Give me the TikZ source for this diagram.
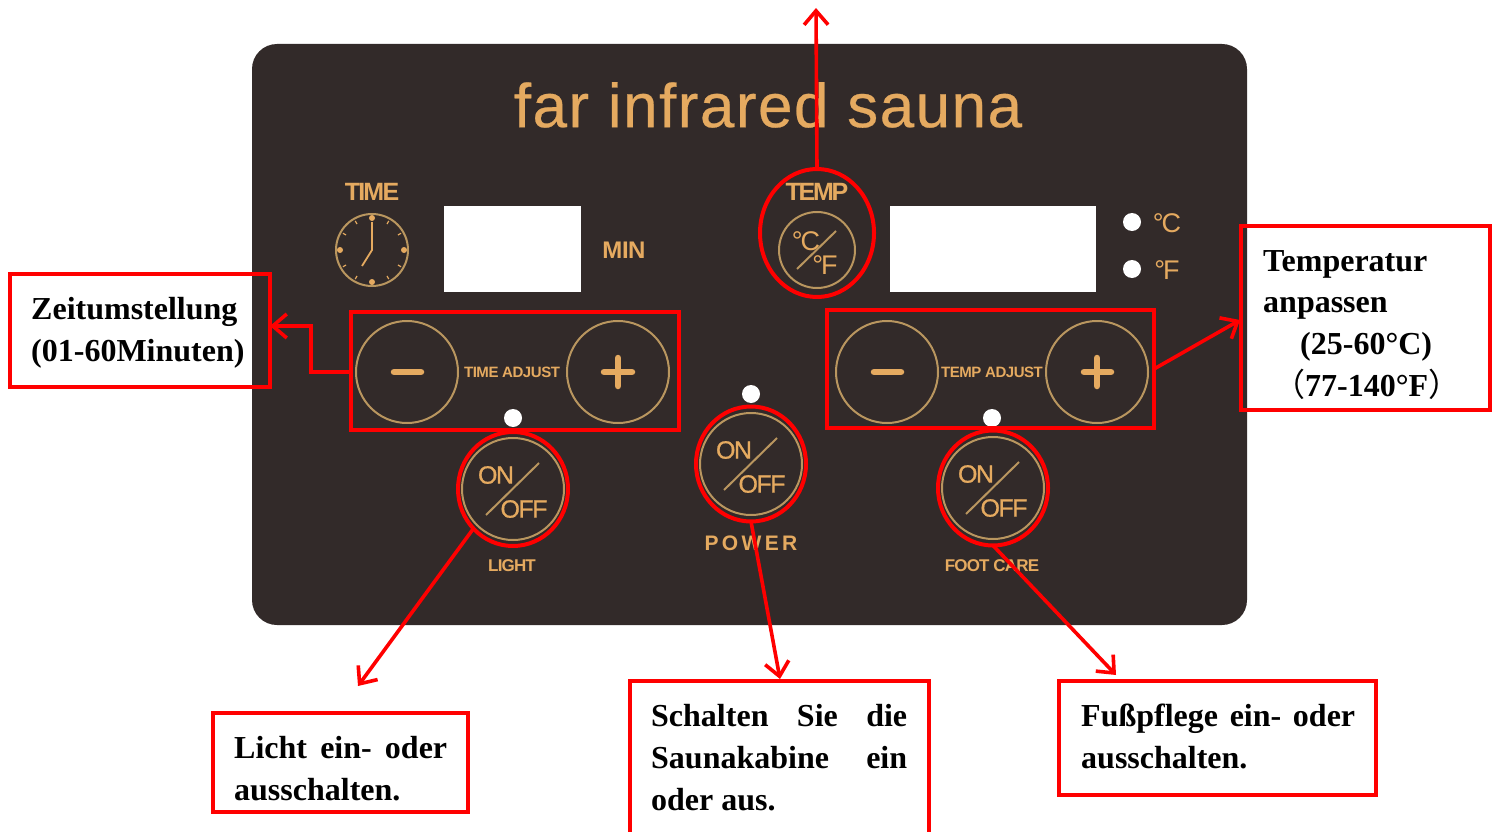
\documentclass[tikz,border=0pt]{standalone}
\usepackage{fontspec}
\setmainfont{Liberation Serif}
\setsansfont{Liberation Sans}
\newfontfamily\cjkf{Noto Sans CJK SC}
\usetikzlibrary{shapes.geometric,arrows.meta}
\definecolor{panel}{HTML}{322A29}
\definecolor{gold}{HTML}{E5AA60}
\definecolor{ring}{HTML}{B9965F}
\definecolor{redline}{HTML}{FF0000}
\newcommand{\fs}[1]{\fontsize{#1}{#1}\selectfont}
\newcommand{\jline}[3]{\hbox to #1{#2\hfill #3}}
\tikzset{
  x=1pt,y=-1pt,
  redbox/.style={draw=redline,line width=3.6pt,rectangle,inner sep=0pt,outer sep=0pt,anchor=north west},
  redell/.style={draw=redline,line width=4pt,ellipse,inner sep=0pt,outer sep=0pt},
  ringc/.style={draw=ring,line width=2pt,circle,inner sep=0pt,outer sep=0pt,minimum size=#1},
  disp/.style={fill=white,rectangle,inner sep=0pt,outer sep=0pt,anchor=north west},
  dot/.style={fill=white,circle,inner sep=0pt,minimum size=18pt},
  lab/.style={text=gold,font=\sffamily\bfseries\fs{#1},inner sep=0pt},
  onofflab/.style={text=gold,font=\sffamily\fs{#1},inner sep=0pt},
  call/.style={font=\bfseries\fontsize{32}{41.8}\selectfont,text=black,inner sep=0pt,anchor=north west,align=left},
  arrowline/.style={draw=redline,line width=3.6pt,-{Straight Barb[length=14pt,width=24pt,line width=3.6pt]}},
  pm/.style={draw=gold,line width=6.5pt,line cap=round}
}
\begin{document}
\begin{tikzpicture}
\useasboundingbox (0,0) rectangle (1499,832);
\clip (0,0) rectangle (1499,832);
% panel
\fill[panel,rounded corners=25pt] (252,44) rectangle (1247,625);
\node[text=gold,font=\sffamily\fs{62},inner sep=0pt] (title) at (768,105) {\addfontfeature{LetterSpace=2.4,FakeBold=0.4}far infrared sauna};
% displays
\node[disp,minimum width=137pt,minimum height=86pt] (disp1) at (444,206) {};
\node[disp,minimum width=206pt,minimum height=86pt] (disp2) at (890,206) {};
\node[lab=25] (time) at (372,192) {\addfontfeature{LetterSpace=-7}TIME};
\node[lab=24] (min) at (624,250) {\addfontfeature{LetterSpace=-2}MIN};
\node[lab=25] (temp) at (817,192) {\addfontfeature{LetterSpace=-9}TEMP};
% clock
\node[ringc=72pt] (clock) at (372,250) {};
\foreach \a in {30,60,120,150,210,240,300,330}
  \draw[gold,line width=1.2pt] (372,250) ++(\a:30) -- ++(\a:3.5);
\foreach \a in {0,90,180,270}
  \fill[gold] (372,250) ++(\a:32) circle (3pt);
\draw[gold,line width=1.8pt] (372,222) -- (372,250) -- (362,266);
% C/F button
\node[ringc=76pt] (cf) at (817,250) {};
\draw[ring,line width=2pt] (797,269) -- (836,231);
\node[onofflab=27] (cfc) at (806,241) {\addfontfeature{LetterSpace=-8}°C};
\node[onofflab=27] (cff) at (825,265) {\addfontfeature{LetterSpace=-8}°F};
% indicators
\node[dot] (d1) at (513,418) {};
\node[dot] (d2) at (751,394) {};
\node[dot] (d3) at (992,418) {};
\node[dot] (d4) at (1132,222) {};
\node[dot] (d5) at (1132,269) {};
\node[onofflab=27,text=gold] (cc) at (1167,223) {\addfontfeature{LetterSpace=-8}°C};
\node[onofflab=27,text=gold] (ff) at (1167,270) {\addfontfeature{LetterSpace=-8}°F};
% adjust
\node[ringc=102pt] (tm) at (407,372) {};
\node[ringc=102pt] (tp) at (618,372) {};
\node[ringc=102pt] (pm1) at (887,372) {};
\node[ringc=102pt] (pp) at (1097,372) {};
\draw[pm] (394,372) -- (421,372);
\draw[pm] (604,372) -- (632,372) (618,358) -- (618,386);
\draw[pm] (874,372) -- (901,372);
\draw[pm] (1084,372) -- (1111,372) (1097,358) -- (1097,386);
\node[lab=15] (ta) at (512,372) {\addfontfeature{LetterSpace=-3}TIME ADJUST};
\node[lab=15] (pa) at (992,372) {\addfontfeature{LetterSpace=-3}TEMP ADJUST};
% on/off buttons
\foreach \n/\cx/\cy in {l/513/489,w/751/464,f/993/488}{
  \node[ringc=102pt] (r\n) at (\cx,\cy) {};
  \draw[ring,line width=2pt] (\cx-27,\cy+26) -- (\cx+26,\cy-26);
  \node[onofflab=25] (on\n) at (\cx-17,\cy-14) {\addfontfeature{LetterSpace=-6,FakeBold=0.8}ON};
  \node[onofflab=25] (off\n) at (\cx+11,\cy+20) {\addfontfeature{LetterSpace=-6,FakeBold=0.8}OFF};
}
\node[lab=17] (light) at (512,566) {\addfontfeature{LetterSpace=-5}LIGHT};
\node[lab=21] (power) at (751,543) {\addfontfeature{LetterSpace=16}POWER};
\node[lab=17] (foot) at (992,566) {\addfontfeature{LetterSpace=-5}FOOT CARE};
% red marks
\node[redbox,minimum width=328pt,minimum height=118pt] (timebox) at (351,312) {};
\node[redbox,minimum width=327pt,minimum height=118pt] (tempbox) at (827,310) {};
\node[redell,minimum width=114pt,minimum height=128pt] (tempell) at (817,233) {};
\node[redell,minimum width=110pt,minimum height=114pt] (lightell) at (513,489) {};
\node[redell,minimum width=110pt,minimum height=115pt] (powell) at (751,464) {};
\node[redell,minimum width=110pt,minimum height=115pt] (footell) at (993,488) {};
% callouts
\node[redbox,minimum width=260pt,minimum height=113pt] (zeitb) at (10,274) {};
\node[redbox,minimum width=249pt,minimum height=184pt] (tempb) at (1241,226) {};
\node[redbox,minimum width=255pt,minimum height=99pt] (lichtb) at (213,713) {};
\node[redbox,minimum width=299pt,minimum height=170pt] (schb) at (630,681) {};
\node[redbox,minimum width=317pt,minimum height=114pt] (fussb) at (1059,681) {};
\node[call] (zeitt) at (31,297) {Zeitumstellung\\(01-60Minuten)};
\node[call] (tempt) at (1263,250) {Temperatur\\anpassen\\\hspace*{37pt}(25-60°C)\\\hspace*{10pt}{\cjkf\mdseries\fontsize{32}{41.8}\selectfont（}77-140°F{\cjkf\mdseries\fontsize{32}{41.8}\selectfont）}};
\node[call] (lichtt) at (234,736) {\jline{213pt}{Licht\hfill ein-}{oder}\\ausschalten.};
\node[call] (scht) at (651,704) {\jline{256pt}{Schalten\hfill Sie}{die}\\\jline{256pt}{Saunakabine}{ein}\\oder aus.};
\node[call] (fusst) at (1081,704) {\jline{274pt}{Fußpflege\hfill ein-}{oder}\\ausschalten.};
% connectors
\coordinate (topend) at (816,8);
\coordinate (e1) at (311,372);
\coordinate (e2) at (311,326);
\coordinate (zeitin) at (zeitb.east |- e2);
\coordinate (tempin) at (1240,320);
\coordinate (lichtin) at (358,686);
\coordinate (schin) at (780,679);
\coordinate (fussin) at (1116,675);
\draw[arrowline] (tempell.north) -- (topend);
\draw[arrowline] (timebox.west |- e1) -- (e1) -- (e2) -- (zeitin);
\draw[arrowline] (tempbox.east) -- (tempin);
\draw[arrowline] (lightell.225) -- (lichtin);
\draw[arrowline] (powell.south) -- (schin);
\draw[arrowline] (footell.south) -- (fussin);
\end{tikzpicture}
\end{document}
